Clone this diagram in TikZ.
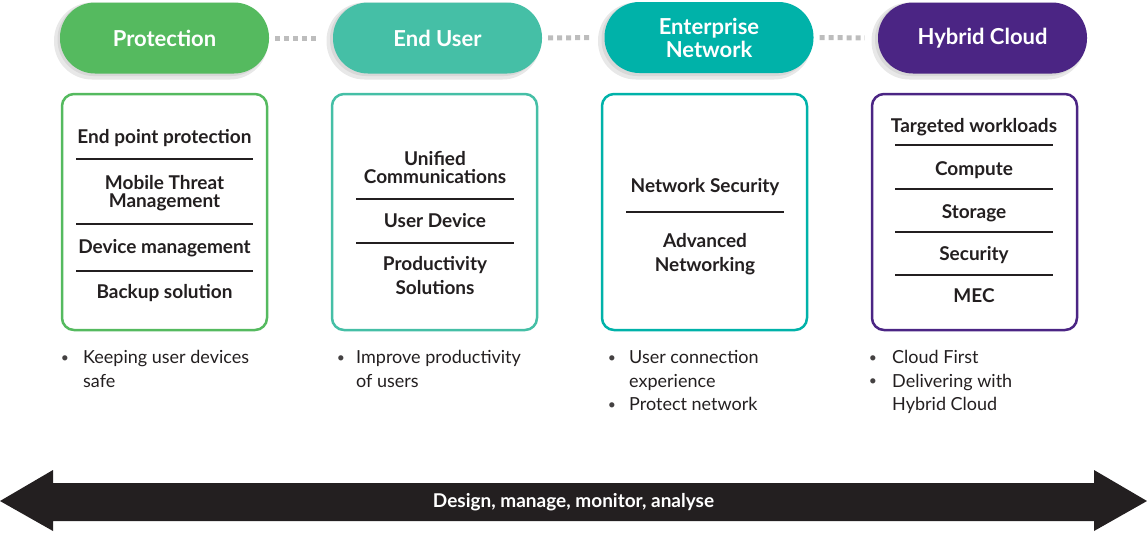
\documentclass[tikz,border=0pt]{standalone}
\usepackage{fontspec}
\setmainfont{Lato}
\definecolor{cGreen}{HTML}{55BA5F}
\definecolor{cTealA}{HTML}{45BFA6}
\definecolor{cTealB}{HTML}{00B2A9}
\definecolor{cPurple}{HTML}{4B2584}
\definecolor{ink}{HTML}{231F20}
\definecolor{dotgray}{HTML}{BDBDBD}
\definecolor{shadeA}{HTML}{E8E8E8}
\definecolor{shadeB}{HTML}{D8D8D8}
\newcommand{\headfont}{\fontsize{22}{23}\selectfont\bfseries}
\newcommand{\itemfont}{\fontsize{19}{18}\selectfont\bfseries}
\newcommand{\bulfont}{\fontsize{18}{23.5}\selectfont}
\newcommand{\dotfont}{\fontsize{14}{16}\selectfont}
\newcommand{\arrfont}{\fontsize{19}{20}\selectfont\bfseries}
\begin{document}
\begin{tikzpicture}[x=1pt,y=-1pt,
  pill/.style={rectangle,rounded corners=35pt,minimum width=209pt,minimum height=71pt,
    text=white,font=\headfont,align=center,inner sep=0pt},
  pillshadow/.style={rectangle,rounded corners=38pt,minimum width=214pt,minimum height=77pt,
    fill=shadeA,inner sep=0pt},
  pillshadowin/.style={rectangle,rounded corners=36pt,minimum width=210pt,minimum height=73pt,
    fill=shadeB,inner sep=0pt},
  dotconn/.style={draw=dotgray,line width=5pt,dash pattern=on 5pt off 4pt},
  card/.style={rectangle,rounded corners=12pt,line width=2.5pt,minimum width=205pt,
    minimum height=236pt,inner sep=0pt},
  item/.style={font=\itemfont,text=ink,align=center,inner sep=0pt,anchor=base},
  sep/.style={draw=ink,line width=1.5pt},
  bul/.style={font=\bulfont,text=ink,align=left,inner sep=0pt,anchor=base west},
  dot/.style={font=\dotfont,text=ink!85,inner sep=0pt,anchor=base},
  arrtext/.style={font=\arrfont,text=white,inner sep=0pt}
]
\useasboundingbox (0,0) rectangle (1147,533);

% pill shadows
\node[pillshadow] (s1) at (161,41) {};
\node[pillshadow] (s2) at (433.5,41) {};
\node[pillshadow] (s3) at (705,41) {};
\node[pillshadow] (s4) at (978.5,41) {};
\node[pillshadowin] (t1) at (162.5,39.5) {};
\node[pillshadowin] (t2) at (435,39.5) {};
\node[pillshadowin] (t3) at (706.5,39.5) {};
\node[pillshadowin] (t4) at (980,39.5) {};

% pills
\node[pill,fill=cGreen] (p1) at (164.5,38) {Protection};
\node[pill,fill=cTealA] (p2) at (437.5,38) {End User};
\node[pill,fill=cTealB] (p3) at (709,37.5) {Enterprise\\Network};
\node[pill,fill=cPurple] (p4) at (982.5,38) {Hybrid Cloud};

% dotted connectors
\draw[dotconn,shorten <=6pt,shorten >=13pt] (p1.east) -- (p2.west);
\draw[dotconn,shorten <=6pt,shorten >=13pt] (p2.east) -- (p3.west);
\draw[dotconn,shorten <=6pt,shorten >=13pt] (p3.east) -- (p4.west);

% cards
\node[card,draw=cGreen] (c1) at (164.5,212) {};
\node[card,draw=cTealA] (c2) at (434.5,212) {};
\node[card,draw=cTealB] (c3) at (704.5,212) {};
\node[card,draw=cPurple] (c4) at (974.5,212) {};

% card 1 (base anchor = baseline of last line)
\node[item] (a1) at (164.5,143) {End point protection};
\draw[sep] (76,159) -- (253,159);
\node[item] (a2) at (164.5,207) {Mobile Threat\\Management};
\draw[sep] (76,224) -- (253,224);
\node[item] (a3) at (164.5,253) {Device management};
\draw[sep] (76,271) -- (253,271);
\node[item] (a4) at (164.5,298) {Backup solution};

% card 2
\node[item] (b1) at (435,183) {Unified\\Communications};
\draw[sep] (356,199) -- (514,199);
\node[item] (b2) at (435,227) {User Device};
\draw[sep] (356,243) -- (514,243);
\node[item] (b3) at (435,294) {Productivity\\[6pt]Solutions};

% card 3
\node[item] (e1) at (705,192) {Network Security};
\draw[sep] (626,212) -- (784,212);
\node[item] (e2) at (705,271) {Advanced\\[6pt]Networking};

% card 4
\node[item] (h1) at (974,132) {Targeted workloads};
\draw[sep] (895,145) -- (1053,145);
\node[item] (h2) at (974,175) {Compute};
\draw[sep] (895,189) -- (1053,189);
\node[item] (h3) at (974,218) {Storage};
\draw[sep] (895,232) -- (1053,232);
\node[item] (h4) at (974,260) {Security};
\draw[sep] (895,275) -- (1053,275);
\node[item] (h5) at (974,302) {MEC};

% bullets
\node[dot] (d1) at (65,362) {\textbullet};
\node[bul] (l1) at (83,387) {Keeping user devices\\safe};
\node[dot] (d2) at (341,362) {\textbullet};
\node[bul] (l2) at (356,387) {Improve productivity\\of users};
\node[dot] (d3) at (612,362) {\textbullet};
\node[bul] (l3) at (629,387) {User connection\\experience};
\node[dot] (d4) at (612,409.5) {\textbullet};
\node[bul] (l4) at (629,410.5) {Protect network};
\node[dot] (d5) at (873,362) {\textbullet};
\node[bul] (l5) at (892,363.5) {Cloud First};
\node[dot] (d6) at (873,385.5) {\textbullet};
\node[bul] (l6) at (892,410.5) {Delivering with\\Hybrid Cloud};

% big double arrow
\fill[ink] (0,501) -- (53,470) -- (53,483) -- (1094,483) -- (1094,470) -- (1147,501)
  -- (1094,531) -- (1094,521) -- (53,521) -- (53,531) -- cycle;
\node[arrtext] (ar) at (573.5,502) {Design, manage, monitor, analyse};
\end{tikzpicture}
\end{document}
